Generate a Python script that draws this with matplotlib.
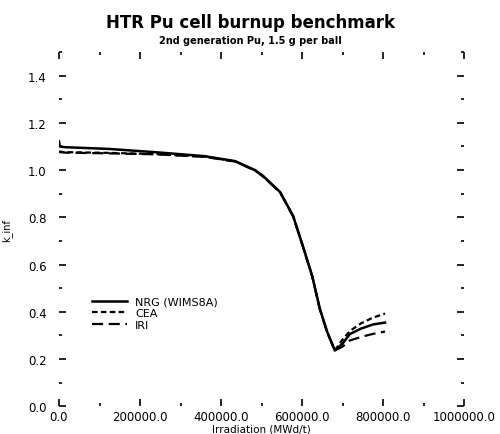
import numpy as np
import matplotlib.pyplot as plt
from matplotlib.ticker import MultipleLocator, FormatStrFormatter

# burnup (MWd/t) and k_inf
burnup = [0, 2000, 15000, 120000, 237000, 360000, 435000, 484000, 504000, 546000,
          578000, 602000, 625000, 644000, 662000, 681000, 700000, 718000, 745000,
          775000, 805000]
k_nrg = [1.122, 1.100, 1.097, 1.090, 1.076, 1.059, 1.038, 1.000, 0.975, 0.907,
         0.806, 0.679, 0.553, 0.413, 0.316, 0.236, 0.265, 0.305, 0.328, 0.346, 0.354]
k_cea = [1.080, 1.078, 1.076, 1.073, 1.068, 1.057, 1.037, 0.999, 0.974, 0.906,
         0.805, 0.678, 0.552, 0.412, 0.315, 0.236, 0.282, 0.318, 0.350, 0.375, 0.392]
k_iri = [1.078, 1.076, 1.074, 1.071, 1.067, 1.056, 1.036, 0.998, 0.973, 0.905,
         0.804, 0.677, 0.551, 0.411, 0.314, 0.236, 0.252, 0.278, 0.293, 0.306, 0.316]

plt.rcParams['font.family'] = ['DejaVu Sans']

fig = plt.figure(figsize=(5.0, 4.35), dpi=100)
ax = fig.add_axes([0.118, 0.064, 0.81, 0.814])

ax.plot(burnup, k_nrg, 'k-', lw=1.8, label='NRG (WIMS8A)')
ax.plot(burnup, k_cea, 'k--', lw=1.6, dashes=(2.5, 1.5), label='CEA')
ax.plot(burnup, k_iri, 'k--', lw=1.6, dashes=(5, 2.5), label='IRI')

ax.set_xlim(0, 1000000)
ax.set_ylim(0, 1.5)
ax.xaxis.set_major_locator(MultipleLocator(200000))
ax.xaxis.set_minor_locator(MultipleLocator(100000))
ax.yaxis.set_major_locator(MultipleLocator(0.2))
ax.yaxis.set_minor_locator(MultipleLocator(0.1))
ax.xaxis.set_major_formatter(FormatStrFormatter('%.1f'))
ax.yaxis.set_major_formatter(FormatStrFormatter('%.1f'))
ax.tick_params(which='both', direction='in', top=True, right=True,
               labelsize=8.5, width=1.2)
ax.tick_params(which='major', length=5)
ax.tick_params(axis='y', which='major', pad=9)
ax.tick_params(axis='x', which='major', pad=3)
ax.tick_params(which='minor', length=2)
for s in ax.spines.values():
    s.set_visible(False)

ax.set_xlabel('Irradiation (MWd/t)', fontsize=7.5, labelpad=0)
ax.set_ylabel('k_inf', fontsize=7)
ax.yaxis.set_label_coords(-0.115, 0.5)

fig.text(0.5, 0.948, 'HTR Pu cell burnup benchmark', ha='center', va='center',
         fontsize=12, fontweight='bold')
fig.text(0.5, 0.906, '2nd generation Pu, 1.5 g per ball', ha='center',
         va='center', fontsize=7, fontweight='bold')

ax.legend(loc='upper left', bbox_to_anchor=(0.081, 0.31), frameon=False,
          fontsize=8, handlelength=3.2, labelspacing=0.15, handletextpad=0.7,
          borderpad=0, borderaxespad=0)

fig.savefig('out.png', dpi=100)
